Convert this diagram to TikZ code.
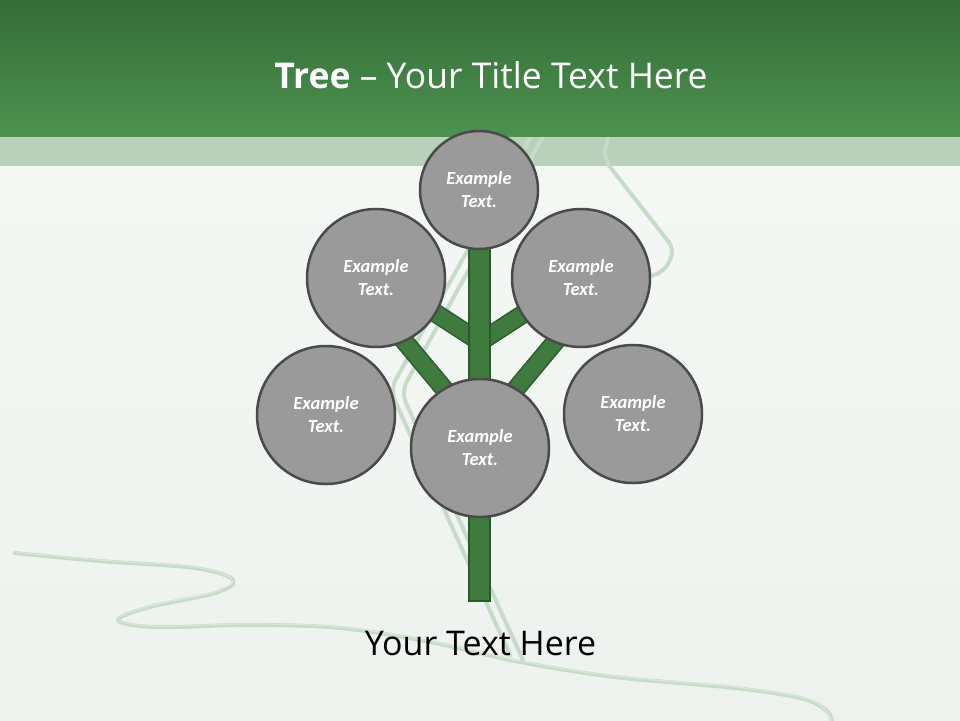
\documentclass[tikz,border=0pt]{standalone}
\usepackage{fontspec}
\setmainfont{Open Sans}
\newfontfamily\calib{Carlito}
\definecolor{hdrtop}{HTML}{356C37}
\definecolor{hdrbot}{HTML}{4C924F}
\definecolor{bandc}{HTML}{B9D0BB}
\definecolor{bgtop}{HTML}{F6FAF7}
\definecolor{bgbot}{HTML}{EDF2EE}
\definecolor{pale}{HTML}{C6DBC8}
\definecolor{palein}{HTML}{D8E7DA}
\definecolor{trunkfill}{HTML}{3F7B3F}
\definecolor{trunkline}{HTML}{2C5A2D}
\definecolor{circfill}{HTML}{9A9A9A}
\definecolor{circline}{HTML}{4A4A4A}
\tikzset{
  paleline/.style={draw=pale, line width=4pt, line cap=round, line join=round},
  circ/.style={circle, draw=circline, line width=2.5pt, fill=circfill, text=white,
    font=\calib\bfseries\itshape\fontsize{18.5}{23}\selectfont, align=center, inner sep=0pt},
  branchout/.style={draw=trunkline, line width=19pt},
  branchin/.style={draw=trunkfill, line width=16pt},
  trunkbox/.style={rectangle, draw=trunkline, line width=1.5pt, fill=trunkfill, inner sep=0pt}
}
\begin{document}
\begin{tikzpicture}[x=1pt,y=-1pt]
\useasboundingbox (0,0) rectangle (960,720);
% background
\shade[top color=bgtop, bottom color=bgbot] (0,0) rectangle (960,720);
\fill[bandc] (0,136) rectangle (960,166);
% pale background lines
\draw[paleline] plot[smooth, tension=0.6] coordinates {(15,553) (100,561) (195,568) (233,580) (215,593) (150,607) (118,620) (155,627) (250,625) (340,628) (430,642) (520,662) (615,677) (735,688) (800,698) (826,710) (832,722)};
\draw[draw=palein, line width=1.2pt] plot[smooth, tension=0.6] coordinates {(15,552) (100,560) (195,567) (232,579) (214,592) (150,606) (118,619) (155,626) (250,624) (340,627) (430,641) (520,661) (615,676) (735,687) (800,697) (825,709) (831,722)};
\draw[paleline, rounded corners=12pt] (540,120) -- (390,390) -- (510,655);
\draw[paleline, rounded corners=12pt] (552,120) -- (401,392) -- (523,660);
\draw[paleline, rounded corners=10pt] (612,120) -- (603,158) -- (675,250) -- (664,272) -- (640,279);
% header
\shade[top color=hdrtop, bottom color=hdrbot] (0,0) rectangle (960,136);
\node[anchor=base, text=white, inner sep=0pt] (title) at (491,88) {\fontsize{35.5}{40}\selectfont\textbf{Tree} – Your Title Text Here};
% branches
\coordinate (j1) at (480,342);
\coordinate (j2) at (480,432);
\coordinate (b1) at (400,290);
\coordinate (b2) at (560,290);
\coordinate (b3) at (385,318);
\coordinate (b4) at (575,318);
\foreach \a/\b in {j1/b1, j1/b2, j2/b3, j2/b4} {
  \draw[branchout] (\a) -- (\b);
  \draw[branchin] (\a) -- (\b);
}
% trunk
\node[trunkbox, minimum width=21pt, minimum height=360pt, anchor=north] (trunk) at (479.5,240) {};
% circles
\node[circ, minimum size=118pt] (top) at (479,190) {Example\\Text.};
\node[circ, minimum size=138pt] (ul) at (376,278) {Example\\Text.};
\node[circ, minimum size=138pt] (ur) at (581,278) {Example\\Text.};
\node[circ, minimum size=138pt] (ll) at (326,415) {Example\\Text.};
\node[circ, minimum size=138pt] (rr) at (633,414) {Example\\Text.};
\node[circ, minimum size=138pt] (mid) at (480,448) {Example\\Text.};
% caption
\node[anchor=base, inner sep=0pt] (cap) at (480.5,655) {\fontsize{34}{38}\selectfont Your Text Here};
\end{tikzpicture}
\end{document}
